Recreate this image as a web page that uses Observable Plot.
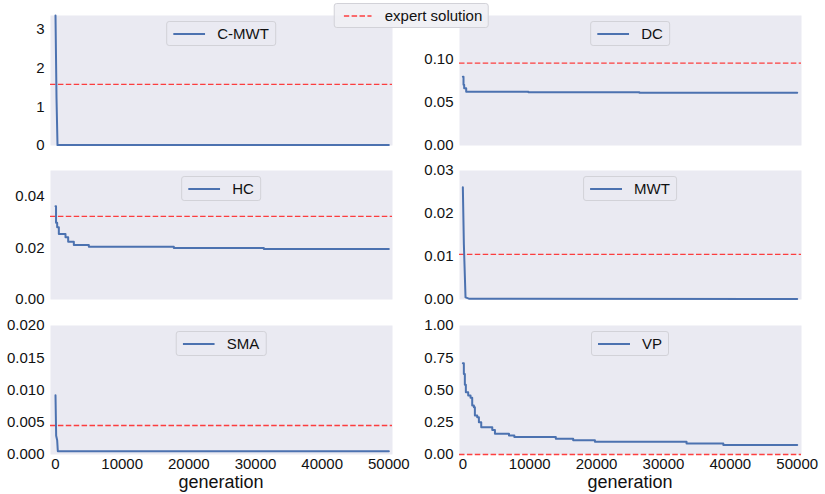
<!DOCTYPE html>
<html>
<head>
<meta charset="utf-8">
<script src="https://cdn.jsdelivr.net/npm/d3@7"></script>
<script src="https://cdn.jsdelivr.net/npm/@observablehq/plot@0.6"></script>
<style>
  html, body { margin: 0; padding: 0; background: #fff; }
  #chart { position: relative; width: 825px; height: 494px; overflow: hidden; background: #fff;
           font-family: "Liberation Sans", Arial, sans-serif; }
  #chart svg.plot { position: absolute; }
  .lg { position: absolute; transform: translateX(-50%); height: 23px; display: flex; align-items: center;
        border: 1px solid #d2d2d8; border-radius: 3px; background: rgba(234,234,242,0.85);
        font: 15px "Liberation Sans", Arial, sans-serif; color: #111; white-space: nowrap; z-index: 3; }
  .xl { position: absolute; transform: translate(-50%, -50%); font: 18px "Liberation Sans", Arial, sans-serif; color: #111; }
</style>
</head>
<body>
<div id="chart"></div>
<script>
// ---------------- data ----------------
const panelNames = ["C-MWT", "DC", "HC", "MWT", "SMA", "VP"];
const expertLabel = "expert solution";
const xLabel = "generation";
const xTicks = [0, 10000, 20000, 30000, 40000, 50000];

// expert solution value per panel
const expertValues = [1.58, 0.095, 0.0322, 0.0105, 0.0045, 0.0];

// C-MWT
const cmwtGen = [0, 150, 300, 50000];
const cmwtVal = [3.36, 1.24, 0.01, 0.01];
// DC
const dcGen = [0, 100, 200, 500, 9800, 26400, 50000];
const dcVal = [0.0794, 0.070, 0.066, 0.062, 0.0615, 0.061, 0.061];
// HC
const hcGen = [0, 80, 250, 500, 1500, 1900, 2750, 5000, 17750, 31250, 50000];
const hcVal = [0.0361, 0.0297, 0.028, 0.0254, 0.0241, 0.0224, 0.0211, 0.0204, 0.0200, 0.0196, 0.0196];
// MWT
const mwtGen = [0, 150, 400, 900, 50000];
const mwtVal = [0.0261, 0.013, 0.0005, 0.0002, 0.0001];
// SMA
const smaGen = [0, 100, 250, 350, 50000];
const smaVal = [0.0092, 0.0029, 0.0022, 0.0005, 0.0005];
// VP
const vpGen = [0, 150, 300, 450, 800, 1150, 1400, 1650, 1800, 2150, 2400, 2750, 4400, 4800, 6900, 7700, 13900, 16500, 19750, 33450, 38950, 50000];
const vpVal = [0.708, 0.625, 0.54, 0.483, 0.457, 0.44, 0.38, 0.367, 0.302, 0.289, 0.25, 0.212, 0.19, 0.16, 0.147, 0.135, 0.122, 0.11, 0.098, 0.085, 0.073, 0.073];

// y axis ticks and domains
const yTicksList = [[0, 1, 2, 3], [0, 0.05, 0.10], [0, 0.02, 0.04], [0, 0.01, 0.02, 0.03], [0, 0.005, 0.010, 0.015, 0.020], [0, 0.25, 0.5, 0.75, 1.0]];
const yFormats = ["d", ".2f", ".2f", ".2f", ".3f", ".2f"];
const yMax = [3.36, 0.15, 0.05, 0.03, 0.02, 1.0];

const seriesGen = [cmwtGen, dcGen, hcGen, mwtGen, smaGen, vpGen];
const seriesVal = [cmwtVal, dcVal, hcVal, mwtVal, smaVal, vpVal];
const curves = ["linear", "step-after", "step-after", "linear", "linear", "step-after"];

// ---------------- layout ----------------
const colX = [[50, 392], [459, 801]];
const colDomain = [[-750, 50550], [-500, 50640]];
const rowY = [[15, 145], [170, 299], [325, 454]];
const BLUE = "#4C72B0";
const RED = "#ff2020";
const ML = 60, MR = 20, MT = 10;

const chart = document.getElementById("chart");

panelNames.forEach((name, i) => {
  const col = i % 2, row = Math.floor(i / 2);
  const [x0, x1] = colX[col];
  const [y0, y1] = rowY[row];
  const bottom = row === 2;
  const MB = bottom ? 30 : 5;
  const xOpts = bottom
    ? { domain: colDomain[col], ticks: xTicks, tickFormat: d => String(d), tickSize: 0, tickPadding: 4, label: null }
    : { domain: colDomain[col], axis: null };
  const svg = Plot.plot({
    width: ML + (x1 - x0) + MR,
    height: MT + (y1 - y0) + MB,
    marginLeft: ML, marginRight: MR, marginTop: MT, marginBottom: MB,
    style: { fontFamily: '"Liberation Sans", Arial, sans-serif', fontSize: "15px", color: "#111", background: "transparent", overflow: "visible" },
    x: xOpts,
    y: { domain: [0, yMax[i]], ticks: yTicksList[i], tickFormat: d3.format(yFormats[i]), tickSize: 0, tickPadding: 6, label: null },
    marks: [
      Plot.frame({ fill: "#EAEAF2", stroke: null }),
      Plot.ruleY([expertValues[i]], { stroke: RED, strokeWidth: 1.3, strokeDasharray: "5.5,2.4", strokeOpacity: 0.85 }),
      Plot.line(seriesGen[i], { x: seriesGen[i], y: seriesVal[i], curve: curves[i], stroke: BLUE, strokeWidth: 2 })
    ]
  });
  svg.classList.add("plot");
  svg.style.left = (x0 - ML) + "px";
  svg.style.top = (y0 - MT) + "px";
  chart.appendChild(svg);

  // per-panel legend (upper center)
  const lg = document.createElement("div");
  lg.className = "lg";
  lg.style.left = ((x0 + x1) / 2) + "px";
  lg.style.top = (y0 + 6) + "px";
  lg.style.padding = "0 6px";
  lg.innerHTML = `<svg width="32" height="4" style="margin-right:12px;display:block"><line x1="0" y1="2" x2="32" y2="2" stroke="${BLUE}" stroke-width="2"/></svg><span>${name}</span>`;
  chart.appendChild(lg);

  if (bottom) {
    const xl = document.createElement("div");
    xl.className = "xl";
    xl.textContent = xLabel;
    xl.style.left = ((x0 + x1) / 2) + "px";
    xl.style.top = "482px";
    chart.appendChild(xl);
  }
});

// global legend
const g = document.createElement("div");
g.className = "lg";
g.style.left = "411px";
g.style.top = "3px";
g.style.padding = "0 5px 0 9px";
g.style.background = "rgba(240,240,244,0.9)";
g.innerHTML = `<svg width="28" height="4" style="margin-right:13px;display:block"><line x1="0" y1="2" x2="28" y2="2" stroke="${RED}" stroke-opacity="0.85" stroke-width="1.3" stroke-dasharray="5.5,2.4"/></svg><span>${expertLabel}</span>`;
chart.appendChild(g);
</script>
</body>
</html>
